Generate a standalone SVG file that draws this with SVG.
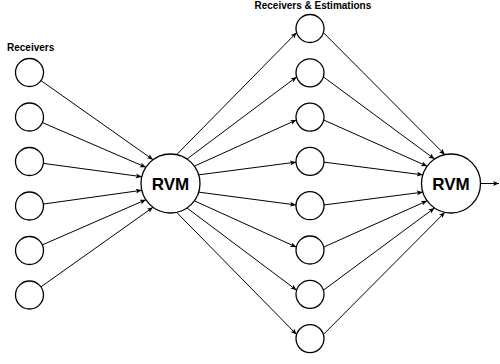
<svg xmlns="http://www.w3.org/2000/svg" width="500" height="364" viewBox="0 0 500 364">
<style>
.n{fill:#fff;stroke:#000;stroke-width:1.3}
.e{fill:none;stroke:#000;stroke-width:1;marker-end:url(#ah)}
.lbl{font-family:"Liberation Sans",Arial,Helvetica,sans-serif;font-weight:bold;font-size:10px;fill:#000}
.big{font-family:"Liberation Sans",Arial,Helvetica,sans-serif;font-weight:bold;font-size:17px;fill:#000;text-anchor:middle}
</style>
<defs>
<marker id="ah" markerUnits="userSpaceOnUse" markerWidth="7" markerHeight="6" refX="6" refY="2.5" orient="auto">
<path d="M0,0 L6,2.5 L0,5 L1.5,2.5 Z" fill="#000" stroke="none"/>
</marker>
</defs>
<rect width="500" height="364" fill="#fff"/>
<text class="lbl" x="7" y="51">Receivers</text>
<text class="lbl" x="254.5" y="8.5">Receivers &amp; Estimations</text>
<g id="connectors">
<line class="e" x1="40.94" y1="80.57" x2="153.03" y2="159.72"/>
<line class="e" x1="42.35" y1="122.55" x2="145.87" y2="167.26"/>
<line class="e" x1="43.37" y1="163.38" x2="141.79" y2="176.71"/>
<line class="e" x1="43.37" y1="204.06" x2="141.79" y2="190.29"/>
<line class="e" x1="42.33" y1="244.90" x2="145.87" y2="199.74"/>
<line class="e" x1="40.91" y1="286.89" x2="153.03" y2="207.28"/>
<line class="e" x1="176.63" y1="154.65" x2="296.61" y2="32.59"/>
<line class="e" x1="187.00" y1="159.04" x2="296.61" y2="76.89"/>
<line class="e" x1="194.37" y1="166.16" x2="296.31" y2="120.01"/>
<line class="e" x1="198.71" y1="174.87" x2="296.02" y2="162.13"/>
<line class="e" x1="198.71" y1="192.13" x2="296.02" y2="204.97"/>
<line class="e" x1="194.37" y1="200.84" x2="296.31" y2="247.09"/>
<line class="e" x1="187.00" y1="207.96" x2="296.61" y2="290.21"/>
<line class="e" x1="176.63" y1="212.35" x2="296.61" y2="334.51"/>
<line class="e" x1="323.39" y1="32.59" x2="444.87" y2="154.65"/>
<line class="e" x1="323.39" y1="76.89" x2="434.50" y2="159.04"/>
<line class="e" x1="323.69" y1="120.01" x2="427.13" y2="166.16"/>
<line class="e" x1="323.98" y1="162.13" x2="422.79" y2="174.87"/>
<line class="e" x1="323.98" y1="204.97" x2="422.79" y2="192.13"/>
<line class="e" x1="323.69" y1="247.09" x2="427.13" y2="200.84"/>
<line class="e" x1="323.39" y1="290.21" x2="434.50" y2="207.96"/>
<line class="e" x1="323.39" y1="334.51" x2="444.87" y2="212.35"/>
<line class="e" x1="480.5" y1="183.5" x2="499" y2="183.5"/>
</g>
<g id="l1"><circle class="n" cx="29.5" cy="72.5" r="14"/></g>
<g id="l2"><circle class="n" cx="29.5" cy="117" r="14"/></g>
<g id="l3"><circle class="n" cx="29.5" cy="161.5" r="14"/></g>
<g id="l4"><circle class="n" cx="29.5" cy="206" r="14"/></g>
<g id="l5"><circle class="n" cx="29.5" cy="250.5" r="14"/></g>
<g id="l6"><circle class="n" cx="29.5" cy="295" r="14"/></g>
<g id="rvm1"><circle class="n" cx="170.5" cy="183.5" r="29.5"/><text class="big" x="170.5" y="190">RVM</text></g>
<g id="m1"><circle class="n" cx="310" cy="28.5" r="14"/></g>
<g id="m2"><circle class="n" cx="310" cy="72.8" r="14"/></g>
<g id="m3"><circle class="n" cx="310" cy="117.1" r="14"/></g>
<g id="m4"><circle class="n" cx="310" cy="161.4" r="14"/></g>
<g id="m5"><circle class="n" cx="310" cy="205.7" r="14"/></g>
<g id="m6"><circle class="n" cx="310" cy="250" r="14"/></g>
<g id="m7"><circle class="n" cx="310" cy="294.3" r="14"/></g>
<g id="m8"><circle class="n" cx="310" cy="338.6" r="14"/></g>
<g id="rvm2"><circle class="n" cx="451" cy="183.5" r="29.5"/><text class="big" x="451" y="190">RVM</text></g>
</svg>
